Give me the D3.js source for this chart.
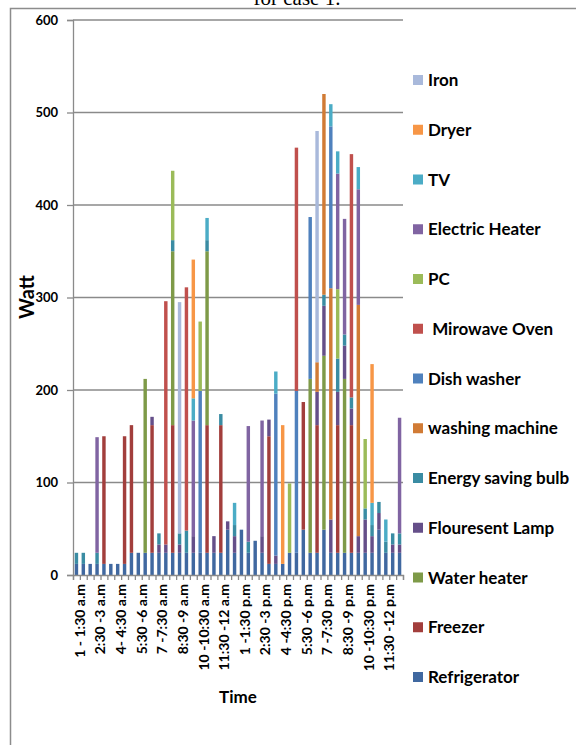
<!DOCTYPE html>
<html>
<head>
<meta charset="utf-8">
<script src="https://cdn.jsdelivr.net/npm/d3@7"></script>
<style>
  body { margin: 0; background: #fff; }
  svg text { font-family: Lato, "Open Sans", sans-serif; }
</style>
</head>
<body>
<div id="chart"></div>
<script>

const categories = [
  "1 - 1:30 a.m", "1:30 - 2 a.m", "2 - 2:30 a.m", "2:30 -3 a.m", "3 - 3:30 a.m", "3:30 - 4 a.m",
  "4- 4:30 a.m", "4:30 - 5 a.m", "5 - 5:30 a.m", "5:30 -6 a.m", "6 - 6:30 a.m", "6:30 - 7 a.m",
  "7 -7:30 a.m", "7:30 - 8 a.m", "8 - 8:30 a.m", "8:30 -9 a.m", "9 - 9:30 a.m", "9:30 - 10 a.m",
  "10 -10:30 a.m", "10:30 - 11 a.m", "11 - 11:30 a.m", "11:30 -12 a.m", "12 - 12:30 p.m", "12:30 - 1 p.m",
  "1 -1:30 p.m", "1:30 - 2 p.m", "2 - 2:30 p.m", "2:30 -3 p.m", "3 - 3:30 p.m", "3:30 - 4 p.m",
  "4 -4:30 p.m", "4:30 - 5 p.m", "5 - 5:30 p.m", "5:30 -6 p.m", "6 - 6:30 p.m", "6:30 - 7 p.m",
  "7 -7:30 p.m", "7:30 - 8 p.m", "8 - 8:30 p.m", "8:30 -9 p.m", "9 - 9:30 p.m", "9:30 - 10 p.m",
  "10 -10:30 p.m", "10:30 - 11 p.m", "11 - 11:30 p.m", "11:30 -12 p.m", "12 - 12:30 a.m", "12:30 - 1 a.m"
];

// watt per half hour, one array per appliance (bottom of stack first)
const refrigerator   = [12,12,12,12,12,12,12,12,24,24, 24,24,24,24,24,24,24,24,24,24, 24,24,49,24,49,24,37,24,12,12, 12,24,24,49,24,24,49,24,24,24, 24,24,24,24,49,24,24,24];
const freezer        = [0,0,0,0,138,0,0,138,138,0, 0,138,0,0,138,0,0,0,0,138, 0,138,0,0,0,0,0,0,138,0, 0,0,0,138,0,138,0,0,138,0, 138,0,0,0,0,0,0,0];
const waterHeater    = [0,0,0,0,0,0,0,0,0,0, 188,0,0,0,188,0,0,0,0,188, 0,0,0,0,0,0,0,0,0,0, 0,0,0,0,188,0,188,0,0,188, 0,0,0,0,0,0,0,0];
const flourLamp      = [0,0,0,0,0,0,0,0,0,0, 0,9,9,9,0,9,0,18,0,0, 18,0,9,18,0,0,0,18,18,9, 0,0,0,0,0,36,54,36,36,36, 18,18,36,18,18,0,9,9];
const energyBulb     = [12,12,0,12,0,0,0,0,0,0, 0,0,12,0,12,12,24,0,0,12, 0,12,0,12,0,12,0,0,0,0, 0,0,0,0,0,0,12,0,36,12, 12,0,12,12,12,12,12,12];
const washingMachine = [0,0,0,0,0,0,0,0,0,0, 0,0,0,0,0,0,0,0,0,0, 0,0,0,0,0,0,0,0,0,0, 0,0,0,0,0,32,217,250,0,0, 0,250,0,0,0,0,0,0];
const dishWasher     = [0,0,0,0,0,0,0,0,0,0, 0,0,0,0,0,0,0,0,175,0, 0,0,0,0,0,0,0,0,0,175, 0,0,175,0,175,0,0,175,0,0, 0,0,0,0,0,0,0,0];
const microwave      = [0,0,0,0,0,0,0,0,0,0, 0,0,0,263,0,0,263,0,0,0, 0,0,0,0,0,0,0,0,0,0, 0,0,263,0,0,0,0,0,0,0, 263,0,0,0,0,0,0,0];
const pc             = [0,0,0,0,0,0,0,0,0,0, 0,0,0,0,75,0,0,0,75,0, 0,0,0,0,0,0,0,0,0,0, 0,75,0,0,0,0,0,0,75,0, 0,0,75,0,0,0,0,0];
const electricHeater = [0,0,0,125,0,0,0,0,0,0, 0,0,0,0,0,0,0,125,0,0, 0,0,0,0,0,125,0,125,0,0, 0,0,0,0,0,0,0,0,125,125, 0,125,0,0,0,0,0,125];
const tv             = [0,0,0,0,0,0,0,0,0,0, 0,0,0,0,0,0,0,24,0,24, 0,0,0,24,0,0,0,0,0,24, 0,0,0,0,0,0,0,24,24,0, 0,24,0,24,0,24,0,0];
const dryer          = [0,0,0,0,0,0,0,0,0,0, 0,0,0,0,0,0,0,150,0,0, 0,0,0,0,0,0,0,0,0,0, 150,0,0,0,0,0,0,0,0,0, 0,0,0,150,0,0,0,0];
const iron           = [0,0,0,0,0,0,0,0,0,0, 0,0,0,0,0,250,0,0,0,0, 0,0,0,0,0,0,0,0,0,0, 0,0,0,0,0,250,0,0,0,0, 0,0,0,0,0,0,0,0];

const seriesNames = ["Refrigerator", "Freezer", "Water heater", "Flouresent Lamp", "Energy saving bulb",
  "washing machine", "Dish washer", "\u00a0Mirowave Oven", "PC", "Electric Heater", "TV", "Dryer", "Iron"];
const seriesValues = [refrigerator, freezer, waterHeater, flourLamp, energyBulb, washingMachine,
  dishWasher, microwave, pc, electricHeater, tv, dryer, iron];
const seriesColors = ["#4068a0", "#a23e3c", "#7e9a48", "#654f89", "#3a8ca3", "#d17b35",
  "#4f81bd", "#c0504d", "#9bbb59", "#8064a2", "#4bacc6", "#f79646", "#a9b9db"];
const yTicks = [0, 100, 200, 300, 400, 500, 600];

let w = 576;
let h = 745;
let plotLeft = 73, plotRight = 403, plotTop = 20, plotBottom = 575;

const rows = categories.map((c, i) => {
  let r = { cat: c };
  seriesNames.forEach((s, k) => r[s] = seriesValues[k][i]);
  return r;
});

const stacked = d3.stack().keys(seriesNames)(rows);

const xScale = d3.scaleBand()
                 .domain(categories)
                 .range([plotLeft, plotRight])
                 .paddingInner(0.5)
                 .paddingOuter(0.25);

const xEdge = d3.scaleLinear()
                .domain([0, categories.length])
                .range([plotLeft, plotRight]);

const yScale = d3.scaleLinear()
                 .domain([0, 600])
                 .range([plotBottom, plotTop]);

const svg = d3.select("#chart")
              .append("svg")
              .attr("width", w)
              .attr("height", h);

// outer frame of the chart area
svg.append("path")
   .attr("d", "M10.5," + (h + 5) + "V8.5H" + (w + 5))
   .attr("fill", "none")
   .attr("stroke", "#8c8c8c")
   .attr("stroke-width", 1.5);

svg.append("text")
   .attr("x", 297)
   .attr("y", 5)
   .attr("text-anchor", "middle")
   .style("font-family", "'Liberation Serif', serif")
   .style("font-size", "21px")
   .text("for case 1.");

// gridlines
svg.append("g")
   .selectAll("line")
   .data(yTicks.filter(d => d > 0))
   .enter()
   .append("line")
   .attr("x1", plotLeft)
   .attr("x2", plotRight)
   .attr("y1", d => yScale(d))
   .attr("y2", d => yScale(d))
   .attr("stroke", "#8a8a8a")
   .attr("stroke-width", 1.3);

// stacked bars
svg.append("g")
   .selectAll("g")
   .data(stacked)
   .enter()
   .append("g")
   .attr("fill", (d, i) => seriesColors[i])
   .selectAll("rect")
   .data(d => d.filter(p => p[1] > p[0]))
   .enter()
   .append("rect")
   .attr("x", d => xScale(d.data.cat))
   .attr("y", d => yScale(d[1]))
   .attr("width", xScale.bandwidth())
   .attr("height", d => yScale(d[0]) - yScale(d[1]));

// y axis
const yAxis = svg.append("g")
   .attr("transform", "translate(" + plotLeft + ",0)")
   .call(d3.axisLeft(yScale).tickValues(yTicks).tickSize(6).tickPadding(9).tickFormat(d3.format("d")));
yAxis.selectAll("text")
   .style("font-size", "13px")
   .style("font-weight", "bold")
   .attr("fill", "#000");

// x axis: tick marks between categories
svg.append("g")
   .attr("transform", "translate(0," + plotBottom + ")")
   .call(d3.axisBottom(xEdge).tickValues(d3.range(0, categories.length + 1)).tickSize(5).tickFormat(""));

// x axis labels, every third slot
const xLabelAxis = svg.append("g")
   .attr("transform", "translate(0," + plotBottom + ")")
   .call(d3.axisBottom(xScale).tickValues(categories.filter((c, i) => i % 3 === 0)).tickSize(0));
xLabelAxis.select(".domain").remove();
xLabelAxis.selectAll("text")
   .attr("transform", "rotate(-90)")
   .attr("x", -9)
   .attr("y", 3.5)
   .attr("dy", "0.35em")
   .attr("text-anchor", "end")
   .attr("fill", "#000")
   .style("font-size", "14px")
   .style("font-weight", "bold");

svg.selectAll(".domain, .tick line")
   .attr("stroke", "#8a8a8a")
   .attr("stroke-width", 1.3);

svg.append("text")
   .attr("transform", "translate(34,297) rotate(-90)")
   .attr("text-anchor", "middle")
   .style("font-size", "20px")
   .style("font-weight", "bold")
   .text("Watt");

svg.append("text")
   .attr("x", 238)
   .attr("y", 703)
   .attr("text-anchor", "middle")
   .style("font-size", "17px")
   .style("font-weight", "bold")
   .text("Time");

// legend, top item is the last series
const legendItems = seriesNames.map((s, i) => ({ name: s, color: seriesColors[i] })).reverse();

const legend = svg.append("g")
   .selectAll("g")
   .data(legendItems)
   .enter()
   .append("g")
   .attr("transform", (d, i) => "translate(413," + (80 + i * 49.75) + ")");

legend.append("rect")
   .attr("x", 0)
   .attr("y", -5)
   .attr("width", 10)
   .attr("height", 10)
   .attr("fill", d => d.color);

legend.append("text")
   .attr("x", 15)
   .attr("y", 0)
   .attr("dy", "0.36em")
   .style("font-size", "17px")
   .style("font-weight", "bold")
   .text(d => d.name);

</script>
</body>
</html>
